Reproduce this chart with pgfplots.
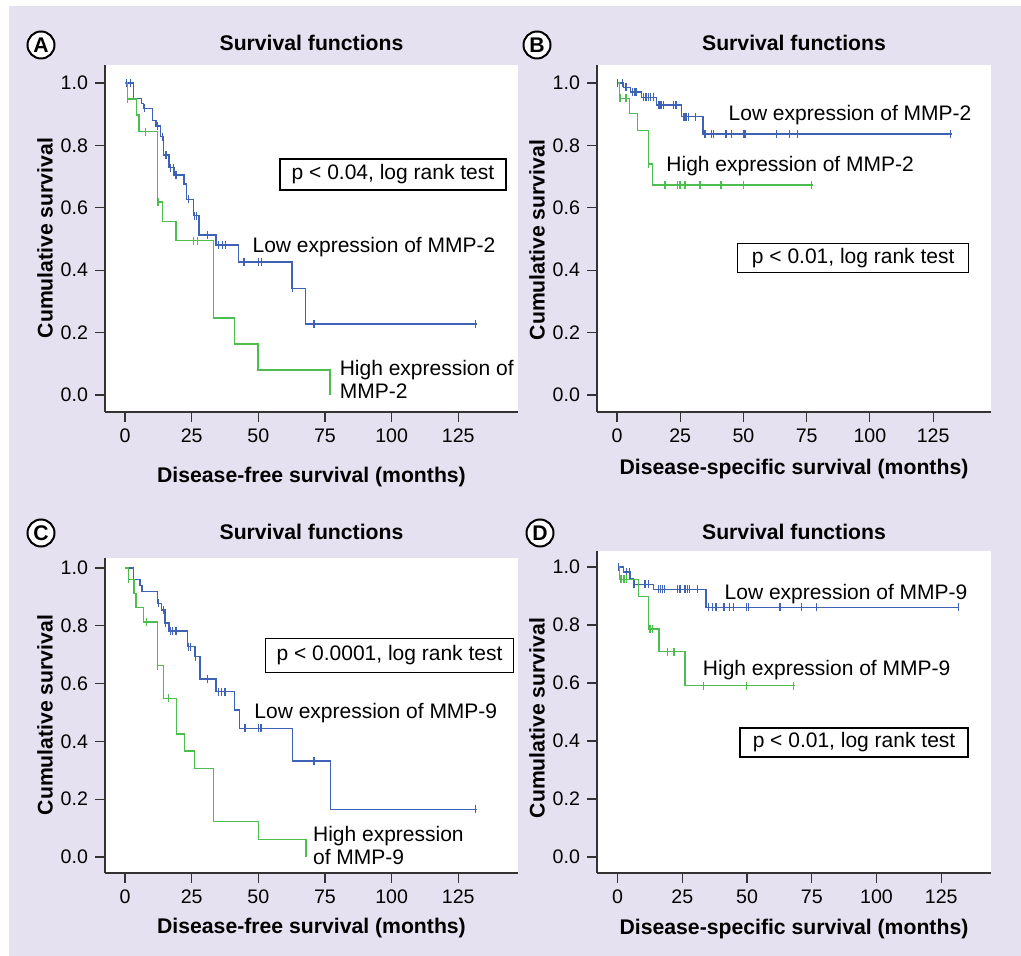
\documentclass[border=0pt]{standalone}
\usepackage{pgfplots}
\pgfplotsset{compat=1.18}
\usepackage{fontspec}
\setmainfont{Liberation Sans}

\definecolor{bgpanel}{RGB}{230,225,240}
\definecolor{kmblue}{RGB}{62,99,182}
\definecolor{kmgreen}{RGB}{76,190,80}

\newcommand{\annfont}{\fontsize{10.5}{12}\selectfont}
\newcommand{\labfont}{\fontsize{10.6}{12}\selectfont\bfseries}

\pgfplotsset{
  kmaxis/.style={
    scale only axis,
    axis x line*=bottom, axis y line*=left,
    axis line style={black!80, line width=0.6pt},
    every tick/.style={black!80, line width=0.6pt},
    tick align=outside, major tick length=5pt,
    xtick={0,25,50,75,100,125},
    ytick={0,0.2,0.4,0.6,0.8,1},
    yticklabel style={/pgf/number format/.cd, fixed, fixed zerofill, precision=1},
    /pgf/number format/assume math mode=true,
    ticklabel style={font=\fontsize{9.8}{11}\selectfont},
    axis background/.style={fill=white},
    clip=false,
  },
  lowline/.style={color=kmblue, line width=0.75pt, const plot},
  highline/.style={color=kmgreen, line width=0.75pt, const plot},
  lowcens/.style={only marks, mark=|, mark size=2pt, color=kmblue, mark options={line width=0.6pt}},
  highcens/.style={only marks, mark=|, mark size=2pt, color=kmgreen, mark options={line width=0.6pt}},
}
\tikzset{
  pbox/.style={draw=black, line width=0.6pt, fill=white, font=\annfont, inner sep=0pt, anchor=center},
  ann/.style={anchor=base west, font=\annfont, inner sep=0pt},
}

\begin{document}
\begin{tikzpicture}
% background
\fill[white] (0pt,0pt) rectangle (510.5pt,-478pt);
\fill[bgpanel] (4.5pt,-3pt) rectangle (510.5pt,-478pt);

% ---- A ----
\begin{axis}[kmaxis, anchor=south west, at={(52.5pt,-206pt)},
  width=206.5pt, height=173.5pt,
  xmin=-7.5, xmax=147.4, ymin=-0.0545, ymax=1.0577]
  \addplot[lowline] coordinates {
    (0,1.0) (3.1,0.951) (6.25,0.935) (6.9,0.919) (10.4,0.879) (11.6,0.862)
    (13.4,0.828) (14.4,0.769) (16.5,0.729) (18.4,0.705) (22.1,0.676) (23.1,0.627)
    (25.6,0.575) (27.75,0.513) (34.1,0.481) (42.5,0.427) (62.7,0.342) (67.7,0.228)
    (131.9,0.228)};
  \addplot[lowcens] coordinates {
    (0.6,1.0) (2.2,1.0) (7.25,0.919) (12.1,0.862) (14.1,0.828) (15.1,0.769)
    (15.6,0.769) (17.1,0.729) (18.1,0.729) (19.1,0.705) (23.7,0.627) (26.2,0.575)
    (26.9,0.575) (30.9,0.513) (35,0.481) (36.6,0.481) (37.6,0.481) (44.6,0.427)
    (50,0.427) (51.1,0.427) (62.7,0.342) (70.9,0.228) (131.6,0.228)};
  \addplot[highline] coordinates {
    (0,1.0) (0.87,0.949) (4.37,0.897) (5.25,0.844) (12.1,0.618) (14.1,0.556)
    (19.1,0.495) (33.1,0.246) (41,0.163) (49.9,0.080) (76.9,0)};
  \addplot[highcens] coordinates {
    (1.0,0.949) (7.6,0.844) (12.4,0.618) (25.6,0.495) (27.1,0.495)};
  \node[ann] at (axis cs:47.7,0.456) {Low expression of MMP-2};
  \node[ann] at (axis cs:80.4,0.064) {High expression of};
  \node[ann] at (axis cs:80.4,-0.011) {MMP-2};
  \node[pbox, minimum width=113pt, minimum height=15.5pt] at (axis cs:100.5,0.707) {p < 0.04, log rank test};
\end{axis}

% ---- B ----
\begin{axis}[kmaxis, anchor=south west, at={(298.5pt,-206pt)},
  width=197pt, height=173.5pt,
  xmin=-7.9, xmax=147.9, ymin=-0.0545, ymax=1.0577]
  \addplot[lowline] coordinates {
    (0,1.0) (2.5,0.986) (5.4,0.971) (9.7,0.954) (15.7,0.930) (25.6,0.892)
    (34.1,0.837) (132.4,0.837)};
  \addplot[lowcens] coordinates {
    (0.3,1.0) (2.1,1.0) (3.6,0.986) (6.2,0.971) (7.1,0.971) (7.8,0.971)
    (10.4,0.954) (11.5,0.954) (12.4,0.954) (13.3,0.954) (14.4,0.954)
    (16.3,0.930) (17,0.930) (17.7,0.930) (18.3,0.930) (22.3,0.930) (23.3,0.930)
    (26.5,0.892) (27.3,0.892) (28.2,0.892) (31.2,0.892)
    (34.8,0.837) (37.4,0.837) (38.1,0.837) (43.1,0.837) (45.4,0.837) (50.2,0.837)
    (50.6,0.837) (63.2,0.837) (68.2,0.837) (71.3,0.837) (132,0.837)};
  \addplot[highline] coordinates {
    (0,1.0) (0.9,0.951) (4.9,0.903) (8.2,0.847) (12.4,0.740) (14.1,0.673) (77.4,0.673)};
  \addplot[highcens] coordinates {
    (1.2,0.951) (3.6,0.951) (12.6,0.740) (19,0.673) (23.9,0.673) (24.9,0.673)
    (26.9,0.673) (32.8,0.673) (41.1,0.673) (50,0.673) (77,0.673)};
  \node[ann] at (axis cs:44.0,0.881) {Low expression of MMP-2};
  \node[ann] at (axis cs:19.4,0.716) {High expression of MMP-2};
  \node[pbox, minimum width=115.3pt, minimum height=14.7pt] at (axis cs:93.4,0.439) {p < 0.01, log rank test};
\end{axis}

% ---- C ----
\begin{axis}[kmaxis, anchor=south west, at={(52.5pt,-436.5pt)},
  width=206.5pt, height=157.5pt,
  xmin=-7.5, xmax=147.4, ymin=-0.0554, ymax=1.0346]
  \addplot[lowline] coordinates {
    (0,1.0) (3.1,0.961) (5.6,0.939) (6.4,0.918) (12.1,0.878) (13.7,0.855)
    (15,0.809) (16.5,0.782) (23.4,0.728) (26.2,0.693) (28.1,0.616) (34.1,0.572)
    (41,0.509) (42.9,0.445) (62.75,0.333) (77.1,0.165) (131.9,0.165)};
  \addplot[lowcens] coordinates {
    (12.5,0.878) (14.4,0.855) (15.3,0.809) (17.1,0.782) (17.9,0.782) (19.1,0.782)
    (23.75,0.728) (24.6,0.728) (26.4,0.693) (30.9,0.616) (35,0.572) (36.2,0.572)
    (37.5,0.572) (45,0.445) (50,0.445) (51,0.445) (70.9,0.333) (131.6,0.165)};
  \addplot[highline] coordinates {
    (0,1.0) (1.25,0.961) (3.4,0.912) (4.1,0.864) (6.9,0.814) (12.1,0.662)
    (14.4,0.549) (19.4,0.426) (22.25,0.367) (26,0.307) (33.1,0.122) (50,0.061)
    (67.9,0)};
  \addplot[highcens] coordinates {
    (1.25,0.961) (8.1,0.814) (12.25,0.662) (16.25,0.549)};
  \node[ann] at (axis cs:48.4,0.480) {Low expression of MMP-9};
  \node[ann] at (axis cs:70.4,0.055) {High expression};
  \node[ann] at (axis cs:70.4,-0.025) {of MMP-9};
  \node[pbox, minimum width=123.8pt, minimum height=17.2pt] at (axis cs:99.2,0.697) {p < 0.0001, log rank test};
\end{axis}

% ---- D ----
\begin{axis}[kmaxis, anchor=south west, at={(298.5pt,-436.5pt)},
  width=197pt, height=161pt,
  xmin=-7.95, xmax=144.2, ymin=-0.0552, ymax=1.055]
  \addplot[lowline] coordinates {
    (0,1.0) (2.2,0.982) (4.8,0.959) (6.1,0.940) (13.8,0.923) (34.1,0.861)
    (131.9,0.861)};
  \addplot[lowcens] coordinates {
    (0.2,1.0) (3.3,0.982) (4.5,0.982) (6.3,0.940) (10.6,0.940) (11.9,0.940)
    (15.7,0.923) (16.6,0.923) (17.3,0.923) (18,0.923) (23.2,0.923) (24.1,0.923)
    (26,0.923) (26.9,0.923) (27.7,0.923) (30.8,0.923)
    (35,0.861) (36.7,0.861) (38,0.861) (41.1,0.861) (43.2,0.861) (44.9,0.861)
    (49.8,0.861) (50.6,0.861) (62.7,0.861) (71.1,0.861) (76.9,0.861) (131.6,0.861)};
  \addplot[highline] coordinates {
    (0,1.0) (0.7,0.957) (8,0.898) (11.9,0.786) (16,0.708) (26,0.591) (68.5,0.591)};
  \addplot[highcens] coordinates {
    (1.0,0.957) (1.6,0.957) (2.2,0.957) (2.8,0.957) (3.4,0.957) (12.5,0.786)
    (13.5,0.786) (19.2,0.708) (21.8,0.708) (33.1,0.591) (49.8,0.591) (67.9,0.591)};
  \node[ann] at (axis cs:41.2,0.889) {Low expression of MMP-9};
  \node[ann] at (axis cs:32.8,0.625) {High expression of MMP-9};
  \node[pbox, minimum width=114pt, minimum height=14.5pt] at (axis cs:91.3,0.395) {p < 0.01, log rank test};
\end{axis}

% titles, panel letters and axis labels (pixel grid of the reference)
\begin{scope}[x=0.5pt, y=-0.5pt]
  \foreach \cx/\by in {311.5/51, 794/51, 311.5/539, 794/539}
    \node[anchor=base, font=\labfont, inner sep=0pt] at (\cx,\by) {Survival functions};
  \foreach \lx/\ly/\lt in {41/45/A, 537/45/B, 41/533/C, 540/533/D}
    \node[circle, draw=black, fill=white, line width=1pt, inner sep=0pt,
          minimum size=13.5pt, font=\labfont] at (\lx,\ly) {\lt};
  \node[anchor=base, font=\labfont, inner sep=0pt] at (311.5,482) {Disease-free survival (months)};
  \node[anchor=base, font=\labfont, inner sep=0pt] at (794,474) {Disease-specific survival (months)};
  \node[anchor=base, font=\labfont, inner sep=0pt] at (311.5,933) {Disease-free survival (months)};
  \node[anchor=base, font=\labfont, inner sep=0pt] at (794,934) {Disease-specific survival (months)};
  \foreach \lx/\ly in {45/238, 537/240, 45/715, 537/718}
    \node[rotate=90, font=\labfont, inner sep=0pt] at (\lx,\ly) {Cumulative survival};
\end{scope}
\end{tikzpicture}
\end{document}
